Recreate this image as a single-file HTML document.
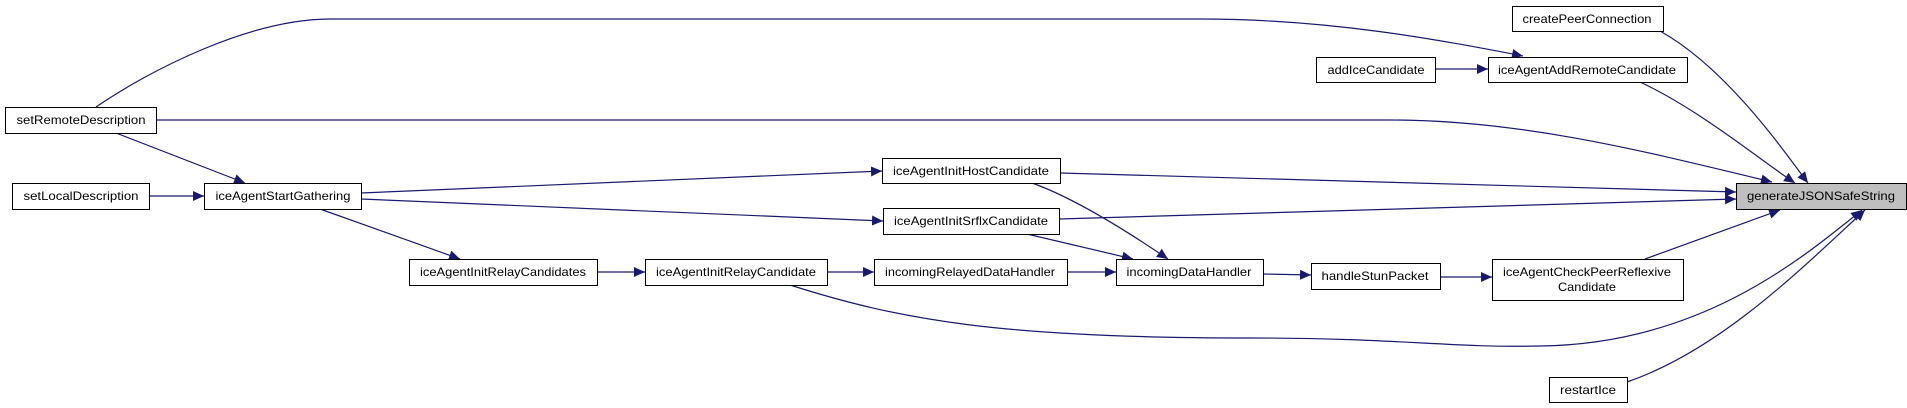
<!DOCTYPE html>
<html><head><meta charset="utf-8"><style>
html,body{margin:0;padding:0;background:#fff;width:1907px;height:408px;overflow:hidden}
svg text{font-family:"Liberation Sans",sans-serif;font-size:12px;fill:#000}
</style></head><body>
<svg width="1907" height="408" viewBox="0 0 1907 408" xmlns="http://www.w3.org/2000/svg">
<defs>
<marker id="a" markerUnits="userSpaceOnUse" markerWidth="12" markerHeight="10" refX="11" refY="5" orient="auto">
<path d="M0,0 L11,5 L0,10 Z" fill="#191970"/>
</marker>
</defs>
<g fill="none" stroke="#191970" stroke-width="1.2" marker-end="url(#a)">
<path d="M96,107 C150,70 250,19 330,19 L1200,19 C1330,19 1440,40 1523,56"/>
<path d="M156,120 L1390,120 C1520,120 1640,150 1772,182"/>
<path d="M116,133 L245,183"/>
<path d="M149,196 L204,196"/>
<path d="M361,193 L882,171"/>
<path d="M361,199 L883,221"/>
<path d="M320,209 L460,259"/>
<path d="M597,272 L645,272"/>
<path d="M827,272 L874,272"/>
<path d="M790,285 C900,320 1000,338 1250,338 C1400,338 1450,348 1540,346 C1700,344 1800,260 1862,210"/>
<path d="M1060,173 L1736,192"/>
<path d="M1059,219 L1736,199"/>
<path d="M1032,183 C1080,200 1140,240 1168,259"/>
<path d="M1027,234 L1133,259"/>
<path d="M1067,272 L1116,272"/>
<path d="M1263,274 L1311,275"/>
<path d="M1440,277 L1492,277"/>
<path d="M1645,259 L1780,210"/>
<path d="M1660,31 C1730,70 1790,160 1808,183"/>
<path d="M1435,69 L1488,69"/>
<path d="M1640,82 C1700,110 1760,160 1795,183"/>
<path d="M1627,382 C1720,350 1800,270 1865,210"/>
</g>
<g stroke="#000" stroke-width="1" fill="#fff">
<rect x="5.5" y="107.5" width="151" height="26"/>
<rect x="12.5" y="183.5" width="137" height="26"/>
<rect x="204.5" y="183.5" width="157" height="26"/>
<rect x="409.5" y="259.5" width="188" height="26"/>
<rect x="645.5" y="259.5" width="182" height="26"/>
<rect x="874.5" y="259.5" width="193" height="26"/>
<rect x="882.5" y="158.5" width="178" height="25"/>
<rect x="883.5" y="208.5" width="176" height="26"/>
<rect x="1512.5" y="6.5" width="151" height="25"/>
<rect x="1316.5" y="57.5" width="119" height="25"/>
<rect x="1488.5" y="57.5" width="199" height="25"/>
<rect x="1736.5" y="183.5" width="170" height="26" fill="#bfbfbf"/>
<rect x="1116.5" y="259.5" width="147" height="26"/>
<rect x="1311.5" y="263.5" width="129" height="26"/>
<rect x="1492.5" y="259.5" width="191" height="41"/>
<rect x="1549.5" y="377.5" width="78" height="25"/>
</g>
<g text-anchor="middle">
<text x="81" y="124" textLength="129" lengthAdjust="spacingAndGlyphs">setRemoteDescription</text>
<text x="81" y="200" textLength="115" lengthAdjust="spacingAndGlyphs">setLocalDescription</text>
<text x="283" y="200" textLength="135" lengthAdjust="spacingAndGlyphs">iceAgentStartGathering</text>
<text x="503" y="276" textLength="166" lengthAdjust="spacingAndGlyphs">iceAgentInitRelayCandidates</text>
<text x="736" y="276" textLength="160" lengthAdjust="spacingAndGlyphs">iceAgentInitRelayCandidate</text>
<text x="970" y="276" textLength="170" lengthAdjust="spacingAndGlyphs">incomingRelayedDataHandler</text>
<text x="971" y="175" textLength="156" lengthAdjust="spacingAndGlyphs">iceAgentInitHostCandidate</text>
<text x="971" y="225" textLength="154" lengthAdjust="spacingAndGlyphs">iceAgentInitSrflxCandidate</text>
<text x="1587" y="23" textLength="129" lengthAdjust="spacingAndGlyphs">createPeerConnection</text>
<text x="1376" y="74" textLength="97" lengthAdjust="spacingAndGlyphs">addIceCandidate</text>
<text x="1587" y="74" textLength="178" lengthAdjust="spacingAndGlyphs">iceAgentAddRemoteCandidate</text>
<text x="1821" y="200" textLength="148" lengthAdjust="spacingAndGlyphs">generateJSONSafeString</text>
<text x="1189" y="276" textLength="125" lengthAdjust="spacingAndGlyphs">incomingDataHandler</text>
<text x="1375" y="280" textLength="107" lengthAdjust="spacingAndGlyphs">handleStunPacket</text>
<text x="1587" y="276" textLength="168" lengthAdjust="spacingAndGlyphs">iceAgentCheckPeerReflexive</text>
<text x="1587" y="291" textLength="58" lengthAdjust="spacingAndGlyphs">Candidate</text>
<text x="1588" y="394" textLength="56" lengthAdjust="spacingAndGlyphs">restartIce</text>
</g>
</svg>
</body></html>
